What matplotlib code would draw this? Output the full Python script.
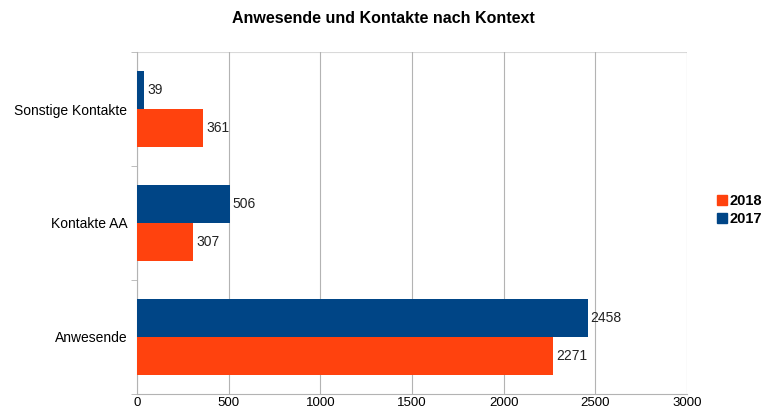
import matplotlib
matplotlib.use("Agg")
import matplotlib.pyplot as plt
import numpy as np
from matplotlib.patches import Patch

plt.rcParams['font.family'] = ['Liberation Sans', 'DejaVu Sans']

categories = ["Anwesende", "Kontakte AA", "Sonstige Kontakte"]
values_2018 = [2271, 307, 361]
values_2017 = [2458, 506, 39]
xticks = [0, 500, 1000, 1500, 2000, 2500, 3000]

c2018 = "#ff420e"
c2017 = "#004586"

fig = plt.figure(figsize=(7.65, 4.12), dpi=100)
ax = fig.add_axes([137/765, 18/412, 550/765, 342/412])

y = np.arange(len(categories))
h = 1/3
b18 = ax.barh(y - h/2, values_2018, height=h, color=c2018, zorder=3)
b17 = ax.barh(y + h/2, values_2017, height=h, color=c2017, zorder=3)

for bars, vals in ((b18, values_2018), (b17, values_2017)):
    for bar, v in zip(bars, vals):
        ax.annotate(str(v), (bar.get_width(), bar.get_y() + bar.get_height()/2),
                    xytext=(2, 0), textcoords="offset points",
                    va="center", ha="left", fontsize=10, color="#222222", zorder=4)

ax.set_xlim(0, 3000)
ax.set_ylim(-0.5, 2.5)
ax.set_xticks(xticks)
ax.set_xticklabels([str(t) for t in xticks], fontsize=9.5)
ax.set_yticks(y)
ax.set_yticklabels(categories, fontsize=10)
ax.set_yticks([-0.5, 0.5, 1.5, 2.5], minor=True)
ax.tick_params(axis='y', which='major', length=0, pad=7)
ax.tick_params(axis='y', which='minor', length=4, color="#b3b3b3", direction='out')
ax.tick_params(axis='x', length=0, pad=2)

ax.grid(axis='x', color="#b3b3b3", linewidth=0.8, zorder=0)
for s in ['top', 'right']:
    ax.spines[s].set_visible(False)
ax.spines['left'].set_color("#b3b3b3")
ax.spines['bottom'].set_color("#b3b3b3")
ax.axhline(2.5, color="#d9d9d9", linewidth=0.8, zorder=1)

ax.set_title("Anwesende und Kontakte nach Kontext", fontsize=11.5, fontweight='bold',
             pad=21, x=(383-137)/550)

handles = [Patch(color=c2018, label="2018"), Patch(color=c2017, label="2017")]
leg = fig.legend(handles=handles, loc='center left', bbox_to_anchor=(717/765, 1-210/412),
                 frameon=False, handlelength=0.7, handleheight=0.7, handletextpad=0.15,
                 labelspacing=0.3, borderpad=0, borderaxespad=0,
                 prop={'weight': 'bold', 'size': 10.5})

fig.savefig("out.png", dpi=100)
